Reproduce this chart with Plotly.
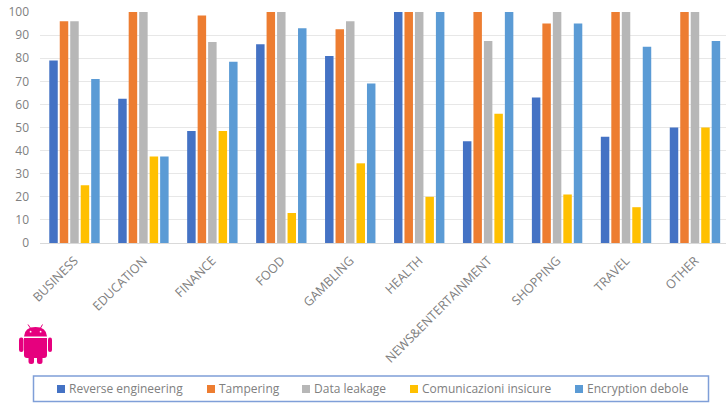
import plotly.graph_objects as go

categories = ["BUSINESS", "EDUCATION", "FINANCE", "FOOD", "GAMBLING", "HEALTH",
              "NEWS&ENTERTAINMENT", "SHOPPING", "TRAVEL", "OTHER"]
reverse_engineering = [79, 62.5, 48.5, 86, 81, 100, 44, 63, 46, 50]
tampering = [96, 100, 98.5, 100, 92.5, 100, 100, 95, 100, 100]
data_leakage = [96, 100, 87, 100, 96, 100, 87.5, 100, 100, 100]
comunicazioni = [25, 37.5, 48.5, 13, 34.5, 20, 56, 21, 15.5, 50]
encryption = [71, 37.5, 78.5, 93, 69, 100, 100, 95, 85, 87.5]
y_ticks = list(range(0, 101, 10))

series = [
    ("Reverse engineering", reverse_engineering, "#4472C4"),
    ("Tampering", tampering, "#ED7D31"),
    ("Data leakage", data_leakage, "#B7B7B7"),
    ("Comunicazioni insicure", comunicazioni, "#FFC000"),
    ("Encryption debole", encryption, "#5B9BD5"),
]
legend_swatch_left = [57, 207, 302, 410, 575]

W, H = 726, 403
L, T, B = 40, 12, 243
FONT = "Open Sans"
TXT = "#808080"
PINK = "#E6007E"

fig = go.Figure()
for name, vals, col in series:
    fig.add_bar(x=categories, y=vals, name=name, marker=dict(color=col, line_width=0))


def xf(x):
    return x - L


def yf(y):
    return B - y


def path_shape(d, color, line=0):
    return dict(type="path", xref="paper", yref="paper", xsizemode="pixel", ysizemode="pixel",
                xanchor=0, yanchor=0, path=d, fillcolor=color,
                line=dict(color=color, width=line), layer="above")


def rrect(x0, y0, x1, y1, r):
    a, b, c, d = xf(x0), yf(y0), xf(x1), yf(y1)
    return (f"M{a+r},{b} L{c-r},{b} Q{c},{b} {c},{b-r} L{c},{d+r} Q{c},{d} {c-r},{d} "
            f"L{a+r},{d} Q{a},{d} {a},{d+r} L{a},{b-r} Q{a},{b} {a+r},{b} Z")


shapes = [
    dict(type="rect", xref="paper", yref="paper", xsizemode="pixel", ysizemode="pixel",
         xanchor=0, yanchor=0, x0=xf(33.5), x1=xf(708.5), y0=yf(376), y1=yf(401.5),
         line=dict(color="#7F9FD8", width=1.5), fillcolor="rgba(0,0,0,0)"),
    path_shape(rrect(19, 337.5, 23.5, 352, 2.2), PINK),
    path_shape(rrect(48, 337.5, 52, 352, 2), PINK),
    path_shape(rrect(28.5, 350, 34, 364, 2.5), PINK),
    path_shape(rrect(37, 350, 42.5, 364, 2.5), PINK),
    path_shape(f"M{xf(24)},{yf(338)} L{xf(47)},{yf(338)} L{xf(47)},{yf(355)} Q{xf(47)},{yf(358)} {xf(44)},{yf(358)} "
               f"L{xf(27)},{yf(358)} Q{xf(24)},{yf(358)} {xf(24)},{yf(355)} Z", PINK),
    path_shape(f"M{xf(24)},{yf(336.5)} Q{xf(24.5)},{yf(327)} {xf(35.5)},{yf(327)} "
               f"Q{xf(46.5)},{yf(327)} {xf(47)},{yf(336.5)} Z", PINK),
    path_shape(f"M{xf(28)},{yf(324.5)} L{xf(31)},{yf(329)}", PINK, 1),
    path_shape(f"M{xf(42.5)},{yf(324.5)} L{xf(40)},{yf(329)}", PINK, 1),
    path_shape(rrect(29.7, 330.8, 31.5, 332.6, 0.9), "#FFFFFF"),
    path_shape(rrect(39.7, 330.8, 41.5, 332.6, 0.9), "#FFFFFF"),
]

annotations = []
for (name, _, col), sx in zip(series, legend_swatch_left):
    shapes.append(dict(type="rect", xref="paper", yref="paper", xsizemode="pixel", ysizemode="pixel",
                       xanchor=0, yanchor=0, x0=xf(sx), x1=xf(sx + 8), y0=yf(385), y1=yf(393),
                       fillcolor=col, line_width=0))
    annotations.append(dict(text=name, xref="paper", yref="paper", showarrow=False,
                            x=(sx + 10 - L) / (W - L), xanchor="left",
                            y=(B - 388.5) / (B - T), yanchor="middle",
                            font=dict(size=12, color=TXT, family=FONT)))

fig.update_layout(
    width=W, height=H, autosize=False,
    margin=dict(l=L, r=0, t=T, b=H - B, pad=0),
    paper_bgcolor="white", plot_bgcolor="white",
    barmode="group", bargap=0.24, bargroupgap=0.19,
    font=dict(family=FONT, color=TXT, size=12),
    showlegend=False,
    xaxis=dict(range=[-0.5, 9.45], tickangle=-45, tickfont=dict(size=12.5, color=TXT), ticks="",
               showgrid=False, showline=False, zeroline=False, automargin=False, ticklabelstandoff=7),
    yaxis=dict(range=[0, 100], tickvals=y_ticks, tickfont=dict(size=12, color=TXT), ticks="",
               gridcolor="#E7E7E7", gridwidth=1, zeroline=True, zerolinecolor="#D9D9D9", zerolinewidth=1,
               showline=False, automargin=False, ticklabelstandoff=10),
    shapes=shapes,
    annotations=annotations,
)

fig.write_html("out.html", config=dict(displayModeBar=False),
               post_script="document.body.style.margin='0';document.body.style.overflow='hidden';")
